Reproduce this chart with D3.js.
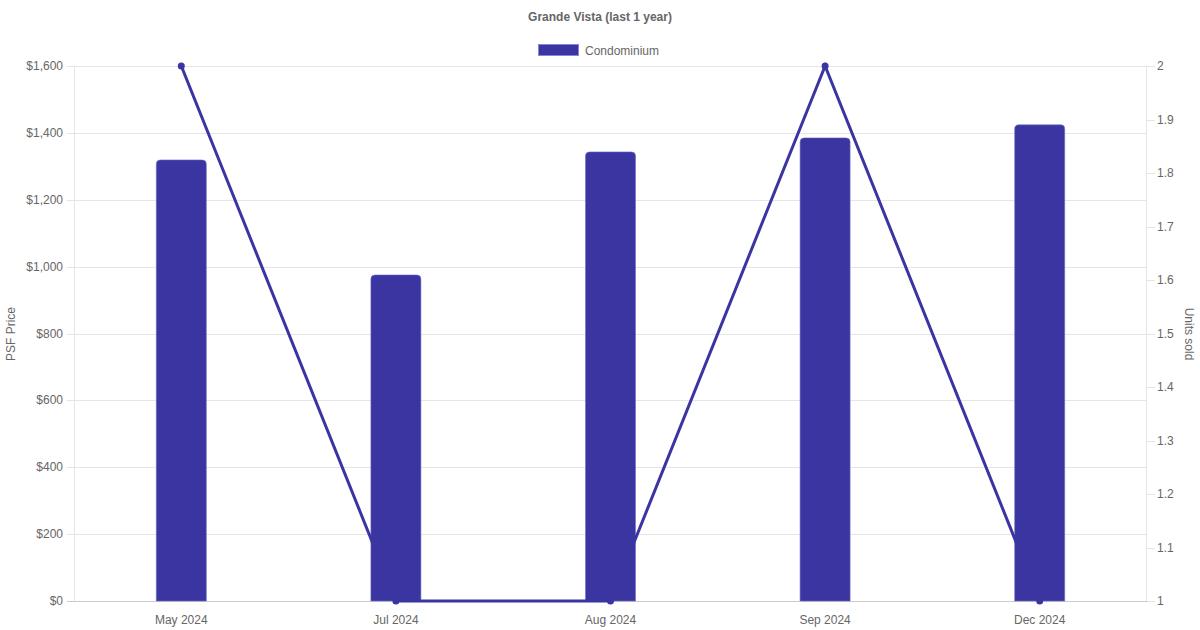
<!DOCTYPE html>
<html><head><meta charset="utf-8">
<script src="https://cdn.jsdelivr.net/npm/d3@7"></script>
<style>body{margin:0;background:#fff}svg{display:block;font-family:"Liberation Sans",Arial,Helvetica,sans-serif}</style>
</head><body><svg id="c" width="1200" height="630"></svg>
<script>
const categories = ["May 2024","Jul 2024","Aug 2024","Sep 2024","Dec 2024"];
const psfPrice = [1319, 975, 1343, 1385, 1424];
const unitsSold = [2, 1, 1, 2, 1];
const leftTicks = [0,200,400,600,800,1000,1200,1400,1600];
const rightTicks = [1,1.1,1.2,1.3,1.4,1.5,1.6,1.7,1.8,1.9,2];
const title = "Grande Vista (last 1 year)";
const seriesName = "Condominium";
const leftTitle = "PSF Price", rightTitle = "Units sold";

const color = "#3a35a0";
const svg = d3.select("#c");
const L=74, R=1147, T=66, B=601;
const x = d3.scaleBand().domain(categories).range([L,R]);
const yL = d3.scaleLinear().domain([0,1600]).range([B,T]);
const yR = d3.scaleLinear().domain([1,2]).range([B,T]);

// title
svg.append("text").attr("x",600).attr("y",21).attr("text-anchor","middle")
  .attr("font-size",12).attr("font-weight","bold").attr("fill","#666").text(title);
// legend
svg.append("rect").attr("x",538.5).attr("y",44.5).attr("width",40).attr("height",11)
  .attr("fill",color).attr("stroke","#8a86d0").attr("stroke-width",1);
svg.append("text").attr("x",585).attr("y",54.5).attr("font-size",12).attr("fill","#666").text(seriesName);

// grid
const g = svg.append("g");
leftTicks.forEach(t=>{
  g.append("line").attr("x1",L-7).attr("x2",R).attr("y1",Math.round(yL(t))+0.5).attr("y2",Math.round(yL(t))+0.5)
   .attr("stroke", t===0? "#ccc":"#e5e5e5").attr("stroke-width",1);
  g.append("text").attr("x",L-11).attr("y",yL(t)+4).attr("text-anchor","end")
   .attr("font-size",12).attr("fill","#666").text("$"+d3.format(",")(t));
});
g.append("line").attr("x1",L+0.5).attr("x2",L+0.5).attr("y1",T).attr("y2",B).attr("stroke","#e5e5e5");
g.append("line").attr("x1",R-0.5).attr("x2",R-0.5).attr("y1",T).attr("y2",B).attr("stroke","#e5e5e5");
rightTicks.forEach(t=>{
  g.append("line").attr("x1",R).attr("x2",R+8).attr("y1",Math.round(yR(t))+0.5).attr("y2",Math.round(yR(t))+0.5)
   .attr("stroke","#e5e5e5");
  g.append("text").attr("x",R+10).attr("y",yR(t)+4).attr("font-size",12).attr("fill","#666").text(d3.format("")(+t.toFixed(1)));
});
// x labels
categories.forEach(c=>{
  g.append("text").attr("x",x(c)+x.bandwidth()/2).attr("y",624).attr("text-anchor","middle")
   .attr("font-size",12).attr("fill","#666").text(c);
});
// axis titles
svg.append("text").attr("transform","translate(15,334) rotate(-90)").attr("text-anchor","middle")
  .attr("font-size",12).attr("fill","#666").text(leftTitle);
svg.append("text").attr("transform","translate(1185,334) rotate(90)").attr("text-anchor","middle")
  .attr("font-size",12).attr("fill","#666").text(rightTitle);

// bars
const bw = 50, r = 4;
psfPrice.forEach((v,i)=>{
  const cx = x(categories[i])+x.bandwidth()/2;
  const x0 = cx-bw/2, x1 = cx+bw/2, y0 = yL(v), yb = B;
  const p = `M${x0},${yb}L${x0},${y0+r}Q${x0},${y0} ${x0+r},${y0}L${x1-r},${y0}Q${x1},${y0} ${x1},${y0+r}L${x1},${yb}Z`;
  svg.append("path").attr("d",p).attr("fill",color).attr("stroke","#6f6bc4").attr("stroke-width",0.6);
});
// line
const pts = unitsSold.map((v,i)=>[x(categories[i])+x.bandwidth()/2, yR(v)]);
svg.append("path").attr("d",d3.line()(pts)).attr("fill","none").attr("stroke",color).attr("stroke-width",3);
pts.forEach(p=>svg.append("circle").attr("cx",p[0]).attr("cy",p[1]).attr("r",3.5).attr("fill",color));
</script></body></html>
